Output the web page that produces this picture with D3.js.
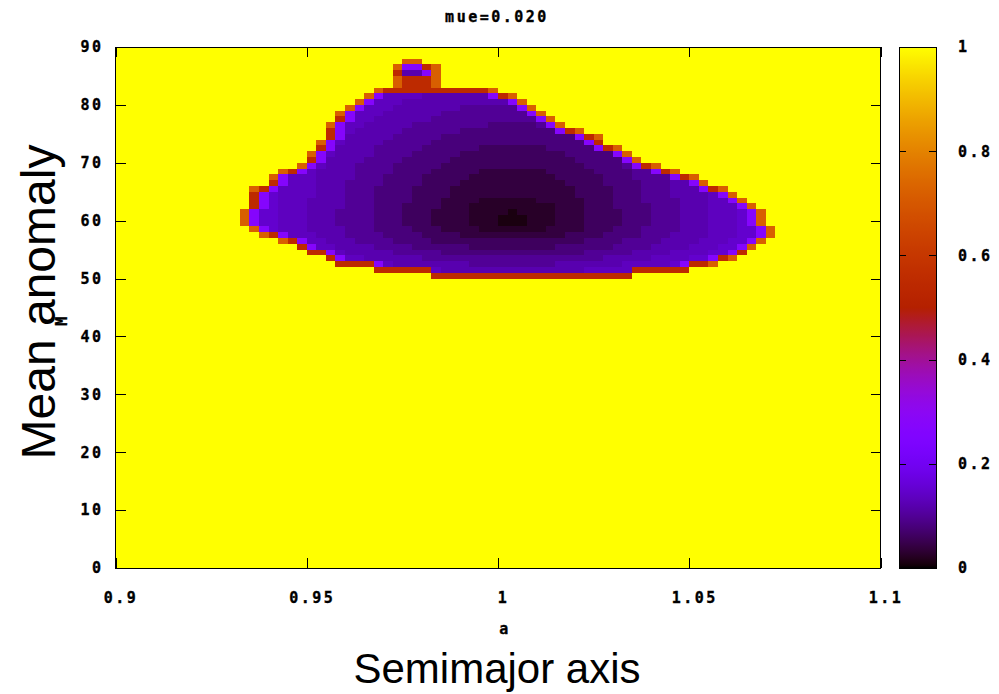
<!DOCTYPE html>
<html>
<head>
<meta charset="utf-8">
<script src="https://cdn.jsdelivr.net/npm/d3@7/dist/d3.min.js"></script>
<style>
  html, body { margin: 0; padding: 0; background: #fff; }
  svg { display: block; }
  .gp { font-family: "DejaVu Sans Mono", monospace; font-weight: bold; font-size: 15px; letter-spacing: 2.5px; fill: #000; stroke: #000; stroke-width: 0.35px; }
  .big { font-family: "Liberation Sans", Arial, sans-serif; fill: #000; }
</style>
</head>
<body>
<svg id="chart" width="999" height="694"></svg>
<script>
// Map sampling: semimajor axis a and mean anomaly M (cell edges)
const aDomain = [0.9, 1.1];
const aStep = 0.0025;
const mDomain = [0, 90];
const mStep = 1;

const titleText = "mue=0.020";
const xLabelText = "a";
const yLabelText = "M";
const xTickValues = [0.9, 0.95, 1, 1.05, 1.1];
const xTickLabels = ["0.9", "0.95", "1", "1.05", "1.1"];
const yTickValues = [0, 10, 20, 30, 40, 50, 60, 70, 80, 90];
const yTickLabels = ["0", "10", "20", "30", "40", "50", "60", "70", "80", "90"];
const cbTickValues = [0, 0.2, 0.4, 0.6, 0.8, 1];
const cbTickLabels = ["0", "0.2", "0.4", "0.6", "0.8", "1"];

// Level codes used in the rows below
const levelCodes = {
  "0": 0.01, "1": 0.025, "2": 0.04, "3": 0.06, "4": 0.08,
  "5": 0.1, "6": 0.12, "7": 0.135, "8": 0.15,
  "v": 0.27, "r": 0.55, "o": 0.72
};

// Cells below 1: row index in M, first column index in a, run-length codes
const rowM = [87, 86, 85, 84, 83, 82, 81, 80, 79, 78, 77, 76, 75, 74, 73, 72, 71, 70, 69,
              68, 67, 66, 65, 64, 63, 62, 61, 60, 59, 58, 57, 56, 55, 54, 53, 52, 51, 50];
const rowStart = [30, 29, 29, 29, 29, 27, 26, 25, 24, 23, 23, 22, 22, 22, 21, 21, 20, 20, 19,
                  17, 16, 16, 14, 14, 14, 14, 13, 13, 13, 14, 15, 17, 19, 20, 22, 23, 27, 33];
const rowCodes = [
  "o*2",
  "o v*2 r o",
  "r 6*2 v o",
  "o r*3 o",
  "o r*3 o",
  "o r*11 o",
  "o v 7*4 6*7 v r o",
  "o v 7*3 6*11 v o",
  "o v 7*3 6*7 5*6 v o",
  "o v 7*3 6*6 5*9 v o",
  "r v 7*2 6*6 5*11 v o",
  "o v 7*2 6*5 5*8 4*5 5 v o",
  "r v 7 6*5 5*6 4*10 v r o",
  "r v 6*5 5*5 4*14 v r o",
  "o v 7 6*4 5*5 4*16 v r",
  "r v 6*4 5*5 4*6 3*7 4*5 v r o",
  "o v 7 6*4 5*4 4*5 3*11 4*5 v o",
  "r v 6*4 5*4 4*5 3*13 4*5 v o",
  "o v 7 6*3 5*4 4*5 3*15 4*4 5 v r o",
  "o r v 7 6*4 5*4 4*4 3*5 2*7 3*5 4*4 5*2 v r o",
  "o v 7*3 6*4 5*3 4*4 3*5 2*9 3*5 4*3 5*4 v r o",
  "r v 7*3 6*3 5*4 4*4 3*4 2*11 3*4 4*4 5*3 6*2 v o",
  "o r v 7*4 6*3 5*3 4*4 3*4 2*13 3*4 4*3 5*3 6*3 v r o",
  "r v 8 7*4 6*3 5*3 4*4 3*4 2*13 3*4 4*3 5*3 6*4 7 v o",
  "r v 8 7*3 6*4 5*3 4*4 3*3 2*4 1*6 2*5 3*3 4*3 5*4 6*3 7*2 v o",
  "r v 8 7*3 6*4 5*3 4*3 3*4 2*3 1*9 2*3 3*3 4*4 5*3 6*3 7*3 v o",
  "o v 8*2 7*3 6*3 5*4 4*3 3*3 2*4 1*3 1 0 1 1*3 2*3 3*4 4*3 5*3 6*3 7*3 8 v o",
  "o v 8*2 7*3 6*3 5*4 4*3 3*3 2*4 1*3 0*3 1*3 2*3 3*4 4*3 5*3 6*3 7*3 8 v o",
  "o v 8*2 7*3 6*3 5*4 4*3 3*3 2*4 1*3 0*3 1*3 2*3 3*4 4*3 5*3 6*3 7*3 8 v o",
  "o v 8 7*3 6*4 5*3 4*4 3*3 2*4 1*7 2*4 3*3 4*3 5*4 6*3 7*3 8*2 v o",
  "o r v 7*3 6*3 5*4 4*4 3*4 2*11 3*4 4*4 5*3 6*4 7*3 8*2 v o",
  "o r v 7*2 6*3 5*4 4*4 3*16 4*4 5*4 6*4 7*3 8*2 v o",
  "r v 7*2 6*4 5*4 4*6 3*9 4*6 5*4 6*4 7*3 8*2 v o",
  "r*2 v 7 6*5 5*5 4*15 5*5 6*4 7*4 8*2 v r",
  "r v 7*2 6*6 5*19 6*5 7*4 8*2 v r o",
  "r*4 v 7 6*8 5*9 6*7 7*5 8 v r*2 o",
  "r*6 7 6*15 7*5 r*6",
  "r*21"
];

// gnuplot default pm3d palette (rgbformulae 7,5,15)
function palette(t) {
  t = Math.max(0, Math.min(1, t));
  const r = Math.sqrt(t), g = t * t * t, b = Math.max(0, Math.sin(2 * Math.PI * t));
  return d3.rgb(Math.round(255 * r), Math.round(255 * g), Math.round(255 * b)).formatHex();
}

function expandRow(codeStr) {
  const out = [];
  codeStr.split(" ").forEach(tok => {
    const [c, n] = tok.split("*");
    const count = n ? +n : 1;
    for (let k = 0; k < count; k++) out.push(levelCodes[c]);
  });
  return out;
}

const nA = Math.round((aDomain[1] - aDomain[0]) / aStep);
const nM = Math.round((mDomain[1] - mDomain[0]) / mStep);

// value grid, unity everywhere except the listed rows
const grid = d3.range(nM).map(() => d3.range(nA).map(() => 1));
rowM.forEach((j, k) => {
  expandRow(rowCodes[k]).forEach((v, p) => { grid[j][rowStart[k] + p] = v; });
});
const cells = [];
grid.forEach((row, j) => row.forEach((v, i) => cells.push({ i, j, v })));

const svg = d3.select("#chart");
const plot = { left: 115.5, right: 880.5, top: 47, bottom: 568 };
const x = d3.scaleLinear().domain(aDomain).range([plot.left, plot.right]);
const y = d3.scaleLinear().domain(mDomain).range([plot.bottom, plot.top]);

// heat map cells
svg.append("g").attr("shape-rendering", "crispEdges")
  .selectAll("rect").data(cells).join("rect")
  .attr("x", d => x(aDomain[0] + d.i * aStep))
  .attr("y", d => y(mDomain[0] + (d.j + 1) * mStep))
  .attr("width", d => x(aDomain[0] + (d.i + 1) * aStep) - x(aDomain[0] + d.i * aStep))
  .attr("height", d => y(mDomain[0] + d.j * mStep) - y(mDomain[0] + (d.j + 1) * mStep))
  .attr("fill", d => palette(d.v));

// frame
svg.append("rect")
  .attr("x", plot.left).attr("y", plot.top)
  .attr("width", plot.right - plot.left).attr("height", plot.bottom - plot.top)
  .attr("fill", "none").attr("stroke", "#000").attr("stroke-width", 1)
  .attr("shape-rendering", "crispEdges");

function styleAxis(g) {
  g.select(".domain").remove();
  g.selectAll(".tick line").attr("stroke", "#000").attr("shape-rendering", "crispEdges");
  g.selectAll(".tick text").attr("class", "gp").attr("font-size", null).attr("font-family", null);
}

// axes with inward ticks, mirrored on the opposite sides
const xAxis = svg.append("g").attr("transform", `translate(0,${plot.bottom})`)
  .call(d3.axisBottom(x).tickValues(xTickValues)
    .tickFormat((d, i) => xTickLabels[i]).tickSizeInner(-10).tickSizeOuter(0).tickPadding(24));
styleAxis(xAxis);
xAxis.selectAll(".tick text").attr("dx", 5);

svg.append("g").attr("transform", `translate(0,${plot.top})`)
  .call(d3.axisTop(x).tickValues(xTickValues).tickFormat("").tickSizeInner(-10).tickSizeOuter(0))
  .call(styleAxis);

const yAxis = svg.append("g").attr("transform", `translate(${plot.left},0)`)
  .call(d3.axisLeft(y).tickValues(yTickValues)
    .tickFormat((d, i) => yTickLabels[i]).tickSizeInner(-10).tickSizeOuter(0).tickPadding(12));
styleAxis(yAxis);

svg.append("g").attr("transform", `translate(${plot.right},0)`)
  .call(d3.axisRight(y).tickValues(yTickValues).tickFormat("").tickSizeInner(-10).tickSizeOuter(0))
  .call(styleAxis);

// colour box
const cb = { left: 899, right: 936, top: 47, bottom: 568 };
const cbScale = d3.scaleLinear().domain([0, 1]).range([cb.bottom, cb.top]);
const grad = svg.append("defs").append("linearGradient")
  .attr("id", "cbgrad").attr("x1", 0).attr("y1", 1).attr("x2", 0).attr("y2", 0);
grad.selectAll("stop").data(d3.range(0, 1.0001, 0.005)).join("stop")
  .attr("offset", d => d).attr("stop-color", d => palette(d));
svg.append("rect")
  .attr("x", cb.left).attr("y", cb.top)
  .attr("width", cb.right - cb.left).attr("height", cb.bottom - cb.top)
  .attr("fill", "url(#cbgrad)").attr("stroke", "#000").attr("stroke-width", 1)
  .attr("shape-rendering", "crispEdges");

const cbAxis = svg.append("g").attr("transform", `translate(${cb.right},0)`)
  .call(d3.axisRight(cbScale).tickValues(cbTickValues)
    .tickFormat((d, i) => cbTickLabels[i]).tickSizeInner(-7).tickSizeOuter(0).tickPadding(22));
styleAxis(cbAxis);
svg.append("g").attr("transform", `translate(${cb.left},0)`)
  .call(d3.axisLeft(cbScale).tickValues(cbTickValues).tickFormat("").tickSizeInner(-7).tickSizeOuter(0))
  .call(styleAxis);

// gnuplot title and axis labels
svg.append("text").attr("class", "gp").attr("x", 497).attr("y", 22)
  .attr("text-anchor", "middle").text(titleText);
svg.append("text").attr("class", "gp").attr("x", 505).attr("y", 634)
  .attr("text-anchor", "middle").text(xLabelText);
svg.append("text").attr("class", "gp")
  .attr("transform", "translate(67,320) rotate(-90)")
  .attr("text-anchor", "middle").text(yLabelText);

// large axis captions
svg.append("text").attr("class", "big").attr("font-size", 48)
  .attr("transform", "translate(55,302) rotate(-90)")
  .attr("text-anchor", "middle").text("Mean anomaly");
svg.append("text").attr("class", "big").attr("font-size", 42)
  .attr("x", 497).attr("y", 683)
  .attr("text-anchor", "middle").text("Semimajor axis");
</script>
</body>
</html>
